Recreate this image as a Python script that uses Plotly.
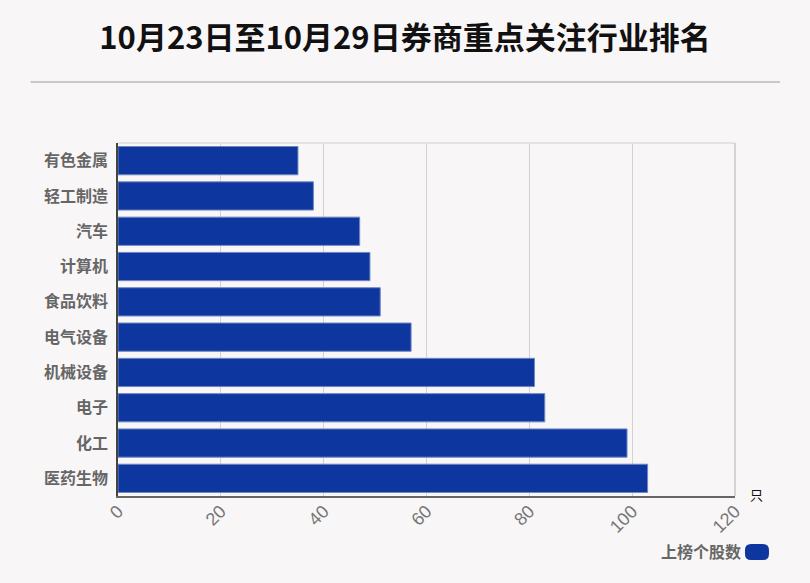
import plotly.graph_objects as go

industries = ["有色金属", "轻工制造", "汽车", "计算机", "食品饮料", "电气设备", "机械设备", "电子", "化工", "医药生物"]
counts = [35, 38, 47, 49, 51, 57, 81, 83, 99, 103]
x_ticks = [0, 20, 40, 60, 80, 100, 120]
series_name = "上榜个股数"
title_text = "10月23日至10月29日券商重点关注行业排名"
unit_text = "只"

BG = "#f9f6f7"
BAR = "#0d369e"
FONT = "Noto Sans CJK SC, sans-serif"

fig = go.Figure()
fig.add_trace(go.Bar(
    y=industries, x=counts, orientation="h", name=series_name,
    marker=dict(color=BAR, line=dict(color="#6f86c4", width=1)),
    showlegend=False,
))

fig.update_layout(
    width=810, height=583,
    paper_bgcolor=BG, plot_bgcolor=BG,
    margin=dict(l=117.5, r=75, t=143, b=87),
    bargap=0.2,
    font=dict(family=FONT),
    title=dict(text="<b>" + title_text + "</b>", x=0.5, xanchor="center", y=0.935, yanchor="middle",
               font=dict(size=31, color="#111111", family=FONT)),
    xaxis=dict(range=[0, 120], tickvals=x_ticks, ticktext=[str(v) for v in x_ticks],
               tickangle=-45, showgrid=True, gridcolor="#d2d2d2", gridwidth=1,
               showline=True, linecolor="#666666", linewidth=1.5, mirror=False,
               zeroline=False, ticks="", ticklabelstandoff=-4,
               tickfont=dict(size=18, color="#777777", family="Liberation Sans, Arial, sans-serif"),
               fixedrange=True),
    yaxis=dict(autorange="reversed", showgrid=False, showline=True, linecolor="#444444", linewidth=1.5,
               ticks="", ticklabelstandoff=5,
               tickfont=dict(size=16, color="#666666", family=FONT, weight="bold"), fixedrange=True),
)

# plot area frame (top/right)
fig.add_shape(type="line", xref="paper", yref="paper", x0=0, x1=1, y0=1, y1=1,
              line=dict(color="#dddddd", width=1.5))
fig.add_shape(type="line", xref="paper", yref="paper", x0=1, x1=1, y0=0, y1=1,
              line=dict(color="#c8c8c8", width=1.5))
# divider under title
fig.add_shape(type="line", xref="paper", yref="paper",
              x0=(30 - 117.5) / 617.5, x1=(780 - 117.5) / 617.5,
              y0=(583 - 87 - 82) / 353, y1=(583 - 87 - 82) / 353,
              line=dict(color="#c8c8c8", width=2))

fig.add_annotation(text=unit_text, xref="paper", yref="paper", x=(757 - 117.5) / 617.5, y=(583 - 87 - 494) / 353,
                   showarrow=False, font=dict(size=13, color="#111111", family=FONT), xanchor="center", yanchor="middle")

# legend (text left of marker)
fig.add_annotation(text="<b>" + series_name + "</b>", xref="paper", yref="paper",
                   x=(743 - 117.5) / 617.5, y=(583 - 87 - 551) / 353,
                   showarrow=False, font=dict(size=16, color="#666666", family=FONT), xanchor="right", yanchor="middle")
fig.add_shape(type="path", xref="paper", yref="paper", xsizemode="pixel", ysizemode="pixel",
              xanchor=(757 - 117.5) / 617.5, yanchor=(583 - 87 - 552) / 353,
              path="M -6,8 L 6,8 Q 12,8 12,2 L 12,-2 Q 12,-8 6,-8 L -6,-8 Q -12,-8 -12,-2 L -12,2 Q -12,8 -6,8 Z",
              fillcolor=BAR, line=dict(color=BAR, width=0))

fig.write_html("out.html", config={"displayModeBar": False},
               post_script="document.body.style.margin='0';document.body.style.background='" + BG + "';")
